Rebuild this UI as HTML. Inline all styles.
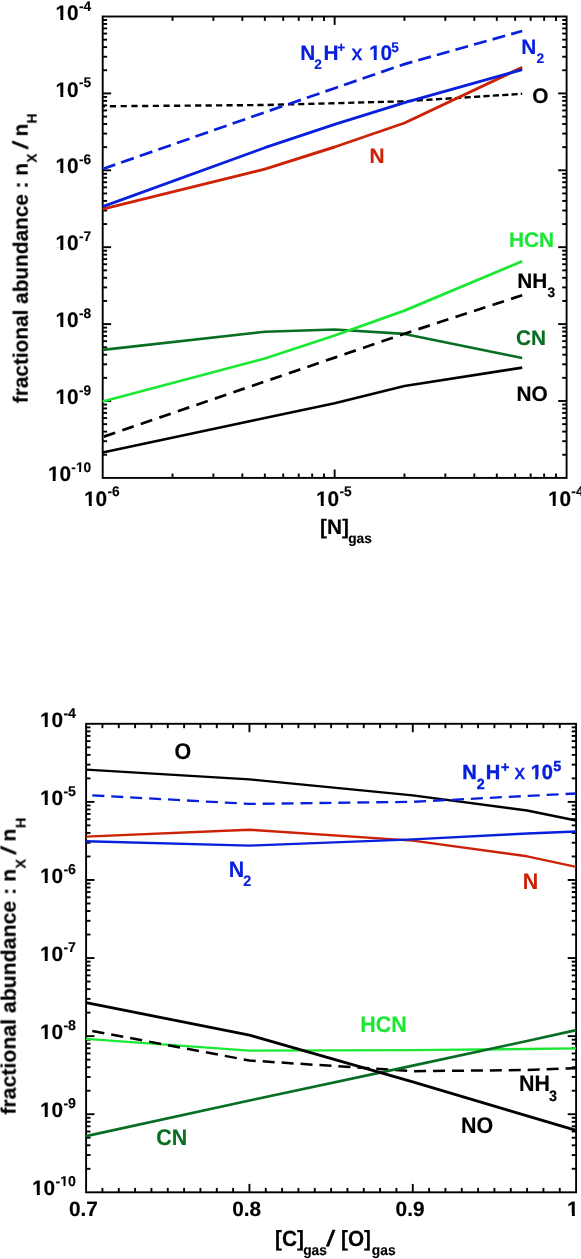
<!DOCTYPE html>
<html><head><meta charset="utf-8"><title>Fractional abundances</title>
<style>
html,body{margin:0;padding:0;background:#fff;}
body{width:581px;height:1259px;overflow:hidden;}
svg{display:block;font-family:"Liberation Sans", sans-serif;text-rendering:geometricPrecision;}
#wrap{will-change:transform;width:581px;height:1259px;}
text{font-family:"Liberation Sans", sans-serif;}
</style></head><body>
<div id="wrap">
<svg width="581" height="1259" viewBox="0 0 581 1259">
<defs><clipPath id="k0" clipPathUnits="userSpaceOnUse"><path clip-rule="evenodd" d="M-60 -60H260V60H-60Z M0.63 -3.14H4.88V3H0.63Z M7.80 -3.14H11.76V3H7.80Z"/></clipPath><clipPath id="k1" clipPathUnits="userSpaceOnUse"><path clip-rule="evenodd" d="M-60 -60H260V60H-60Z M5.05 -2.42H7.85V3H5.05Z M9.80 -2.42H12.41V3H9.80Z"/></clipPath><clipPath id="k2" clipPathUnits="userSpaceOnUse"><path clip-rule="evenodd" d="M-60 -60H260V60H-60Z M0.62 -3.12H4.83V3H0.62Z M7.73 -3.12H11.65V3H7.73Z"/></clipPath><clipPath id="k3" clipPathUnits="userSpaceOnUse"><path clip-rule="evenodd" d="M-60 -60H260V60H-60Z M5.15 -2.45H8.02V3H5.15Z M10.01 -2.45H12.68V3H10.01Z"/></clipPath><clipPath id="k4" clipPathUnits="userSpaceOnUse"><path clip-rule="evenodd" d="M-60 -60H260V60H-60Z M0.61 -3.09H4.76V3H0.61Z M7.62 -3.09H11.48V3H7.62Z"/></clipPath><mask id="m" maskUnits="userSpaceOnUse" x="0" y="0" width="581" height="1259"><rect x="0" y="0" width="581" height="1259" fill="#fff"/></mask></defs>
<rect x="0" y="0" width="581" height="1259" fill="#fff"/>
<g mask="url(#m)">
<rect x="102.7" y="16.5" width="463.90" height="461.40" fill="none" stroke="#000" stroke-width="1.9"/>
<line x1="102.70" y1="70.25" x2="107.10" y2="70.25" stroke="#000" stroke-width="1.9"/>
<line x1="566.60" y1="70.25" x2="562.20" y2="70.25" stroke="#000" stroke-width="1.9"/>
<line x1="102.70" y1="56.71" x2="107.10" y2="56.71" stroke="#000" stroke-width="1.9"/>
<line x1="566.60" y1="56.71" x2="562.20" y2="56.71" stroke="#000" stroke-width="1.9"/>
<line x1="102.70" y1="47.10" x2="107.10" y2="47.10" stroke="#000" stroke-width="1.9"/>
<line x1="566.60" y1="47.10" x2="562.20" y2="47.10" stroke="#000" stroke-width="1.9"/>
<line x1="102.70" y1="39.65" x2="107.10" y2="39.65" stroke="#000" stroke-width="1.9"/>
<line x1="566.60" y1="39.65" x2="562.20" y2="39.65" stroke="#000" stroke-width="1.9"/>
<line x1="102.70" y1="33.56" x2="107.10" y2="33.56" stroke="#000" stroke-width="1.9"/>
<line x1="566.60" y1="33.56" x2="562.20" y2="33.56" stroke="#000" stroke-width="1.9"/>
<line x1="102.70" y1="28.41" x2="107.10" y2="28.41" stroke="#000" stroke-width="1.9"/>
<line x1="566.60" y1="28.41" x2="562.20" y2="28.41" stroke="#000" stroke-width="1.9"/>
<line x1="102.70" y1="23.95" x2="107.10" y2="23.95" stroke="#000" stroke-width="1.9"/>
<line x1="566.60" y1="23.95" x2="562.20" y2="23.95" stroke="#000" stroke-width="1.9"/>
<line x1="102.70" y1="20.02" x2="107.10" y2="20.02" stroke="#000" stroke-width="1.9"/>
<line x1="566.60" y1="20.02" x2="562.20" y2="20.02" stroke="#000" stroke-width="1.9"/>
<line x1="102.70" y1="93.40" x2="111.10" y2="93.40" stroke="#000" stroke-width="1.9"/>
<line x1="566.60" y1="93.40" x2="558.20" y2="93.40" stroke="#000" stroke-width="1.9"/>
<line x1="102.70" y1="147.15" x2="107.10" y2="147.15" stroke="#000" stroke-width="1.9"/>
<line x1="566.60" y1="147.15" x2="562.20" y2="147.15" stroke="#000" stroke-width="1.9"/>
<line x1="102.70" y1="133.61" x2="107.10" y2="133.61" stroke="#000" stroke-width="1.9"/>
<line x1="566.60" y1="133.61" x2="562.20" y2="133.61" stroke="#000" stroke-width="1.9"/>
<line x1="102.70" y1="124.00" x2="107.10" y2="124.00" stroke="#000" stroke-width="1.9"/>
<line x1="566.60" y1="124.00" x2="562.20" y2="124.00" stroke="#000" stroke-width="1.9"/>
<line x1="102.70" y1="116.55" x2="107.10" y2="116.55" stroke="#000" stroke-width="1.9"/>
<line x1="566.60" y1="116.55" x2="562.20" y2="116.55" stroke="#000" stroke-width="1.9"/>
<line x1="102.70" y1="110.46" x2="107.10" y2="110.46" stroke="#000" stroke-width="1.9"/>
<line x1="566.60" y1="110.46" x2="562.20" y2="110.46" stroke="#000" stroke-width="1.9"/>
<line x1="102.70" y1="105.31" x2="107.10" y2="105.31" stroke="#000" stroke-width="1.9"/>
<line x1="566.60" y1="105.31" x2="562.20" y2="105.31" stroke="#000" stroke-width="1.9"/>
<line x1="102.70" y1="100.85" x2="107.10" y2="100.85" stroke="#000" stroke-width="1.9"/>
<line x1="566.60" y1="100.85" x2="562.20" y2="100.85" stroke="#000" stroke-width="1.9"/>
<line x1="102.70" y1="96.92" x2="107.10" y2="96.92" stroke="#000" stroke-width="1.9"/>
<line x1="566.60" y1="96.92" x2="562.20" y2="96.92" stroke="#000" stroke-width="1.9"/>
<line x1="102.70" y1="170.30" x2="111.10" y2="170.30" stroke="#000" stroke-width="1.9"/>
<line x1="566.60" y1="170.30" x2="558.20" y2="170.30" stroke="#000" stroke-width="1.9"/>
<line x1="102.70" y1="224.05" x2="107.10" y2="224.05" stroke="#000" stroke-width="1.9"/>
<line x1="566.60" y1="224.05" x2="562.20" y2="224.05" stroke="#000" stroke-width="1.9"/>
<line x1="102.70" y1="210.51" x2="107.10" y2="210.51" stroke="#000" stroke-width="1.9"/>
<line x1="566.60" y1="210.51" x2="562.20" y2="210.51" stroke="#000" stroke-width="1.9"/>
<line x1="102.70" y1="200.90" x2="107.10" y2="200.90" stroke="#000" stroke-width="1.9"/>
<line x1="566.60" y1="200.90" x2="562.20" y2="200.90" stroke="#000" stroke-width="1.9"/>
<line x1="102.70" y1="193.45" x2="107.10" y2="193.45" stroke="#000" stroke-width="1.9"/>
<line x1="566.60" y1="193.45" x2="562.20" y2="193.45" stroke="#000" stroke-width="1.9"/>
<line x1="102.70" y1="187.36" x2="107.10" y2="187.36" stroke="#000" stroke-width="1.9"/>
<line x1="566.60" y1="187.36" x2="562.20" y2="187.36" stroke="#000" stroke-width="1.9"/>
<line x1="102.70" y1="182.21" x2="107.10" y2="182.21" stroke="#000" stroke-width="1.9"/>
<line x1="566.60" y1="182.21" x2="562.20" y2="182.21" stroke="#000" stroke-width="1.9"/>
<line x1="102.70" y1="177.75" x2="107.10" y2="177.75" stroke="#000" stroke-width="1.9"/>
<line x1="566.60" y1="177.75" x2="562.20" y2="177.75" stroke="#000" stroke-width="1.9"/>
<line x1="102.70" y1="173.82" x2="107.10" y2="173.82" stroke="#000" stroke-width="1.9"/>
<line x1="566.60" y1="173.82" x2="562.20" y2="173.82" stroke="#000" stroke-width="1.9"/>
<line x1="102.70" y1="247.20" x2="111.10" y2="247.20" stroke="#000" stroke-width="1.9"/>
<line x1="566.60" y1="247.20" x2="558.20" y2="247.20" stroke="#000" stroke-width="1.9"/>
<line x1="102.70" y1="300.95" x2="107.10" y2="300.95" stroke="#000" stroke-width="1.9"/>
<line x1="566.60" y1="300.95" x2="562.20" y2="300.95" stroke="#000" stroke-width="1.9"/>
<line x1="102.70" y1="287.41" x2="107.10" y2="287.41" stroke="#000" stroke-width="1.9"/>
<line x1="566.60" y1="287.41" x2="562.20" y2="287.41" stroke="#000" stroke-width="1.9"/>
<line x1="102.70" y1="277.80" x2="107.10" y2="277.80" stroke="#000" stroke-width="1.9"/>
<line x1="566.60" y1="277.80" x2="562.20" y2="277.80" stroke="#000" stroke-width="1.9"/>
<line x1="102.70" y1="270.35" x2="107.10" y2="270.35" stroke="#000" stroke-width="1.9"/>
<line x1="566.60" y1="270.35" x2="562.20" y2="270.35" stroke="#000" stroke-width="1.9"/>
<line x1="102.70" y1="264.26" x2="107.10" y2="264.26" stroke="#000" stroke-width="1.9"/>
<line x1="566.60" y1="264.26" x2="562.20" y2="264.26" stroke="#000" stroke-width="1.9"/>
<line x1="102.70" y1="259.11" x2="107.10" y2="259.11" stroke="#000" stroke-width="1.9"/>
<line x1="566.60" y1="259.11" x2="562.20" y2="259.11" stroke="#000" stroke-width="1.9"/>
<line x1="102.70" y1="254.65" x2="107.10" y2="254.65" stroke="#000" stroke-width="1.9"/>
<line x1="566.60" y1="254.65" x2="562.20" y2="254.65" stroke="#000" stroke-width="1.9"/>
<line x1="102.70" y1="250.72" x2="107.10" y2="250.72" stroke="#000" stroke-width="1.9"/>
<line x1="566.60" y1="250.72" x2="562.20" y2="250.72" stroke="#000" stroke-width="1.9"/>
<line x1="102.70" y1="324.10" x2="111.10" y2="324.10" stroke="#000" stroke-width="1.9"/>
<line x1="566.60" y1="324.10" x2="558.20" y2="324.10" stroke="#000" stroke-width="1.9"/>
<line x1="102.70" y1="377.85" x2="107.10" y2="377.85" stroke="#000" stroke-width="1.9"/>
<line x1="566.60" y1="377.85" x2="562.20" y2="377.85" stroke="#000" stroke-width="1.9"/>
<line x1="102.70" y1="364.31" x2="107.10" y2="364.31" stroke="#000" stroke-width="1.9"/>
<line x1="566.60" y1="364.31" x2="562.20" y2="364.31" stroke="#000" stroke-width="1.9"/>
<line x1="102.70" y1="354.70" x2="107.10" y2="354.70" stroke="#000" stroke-width="1.9"/>
<line x1="566.60" y1="354.70" x2="562.20" y2="354.70" stroke="#000" stroke-width="1.9"/>
<line x1="102.70" y1="347.25" x2="107.10" y2="347.25" stroke="#000" stroke-width="1.9"/>
<line x1="566.60" y1="347.25" x2="562.20" y2="347.25" stroke="#000" stroke-width="1.9"/>
<line x1="102.70" y1="341.16" x2="107.10" y2="341.16" stroke="#000" stroke-width="1.9"/>
<line x1="566.60" y1="341.16" x2="562.20" y2="341.16" stroke="#000" stroke-width="1.9"/>
<line x1="102.70" y1="336.01" x2="107.10" y2="336.01" stroke="#000" stroke-width="1.9"/>
<line x1="566.60" y1="336.01" x2="562.20" y2="336.01" stroke="#000" stroke-width="1.9"/>
<line x1="102.70" y1="331.55" x2="107.10" y2="331.55" stroke="#000" stroke-width="1.9"/>
<line x1="566.60" y1="331.55" x2="562.20" y2="331.55" stroke="#000" stroke-width="1.9"/>
<line x1="102.70" y1="327.62" x2="107.10" y2="327.62" stroke="#000" stroke-width="1.9"/>
<line x1="566.60" y1="327.62" x2="562.20" y2="327.62" stroke="#000" stroke-width="1.9"/>
<line x1="102.70" y1="401.00" x2="111.10" y2="401.00" stroke="#000" stroke-width="1.9"/>
<line x1="566.60" y1="401.00" x2="558.20" y2="401.00" stroke="#000" stroke-width="1.9"/>
<line x1="102.70" y1="454.75" x2="107.10" y2="454.75" stroke="#000" stroke-width="1.9"/>
<line x1="566.60" y1="454.75" x2="562.20" y2="454.75" stroke="#000" stroke-width="1.9"/>
<line x1="102.70" y1="441.21" x2="107.10" y2="441.21" stroke="#000" stroke-width="1.9"/>
<line x1="566.60" y1="441.21" x2="562.20" y2="441.21" stroke="#000" stroke-width="1.9"/>
<line x1="102.70" y1="431.60" x2="107.10" y2="431.60" stroke="#000" stroke-width="1.9"/>
<line x1="566.60" y1="431.60" x2="562.20" y2="431.60" stroke="#000" stroke-width="1.9"/>
<line x1="102.70" y1="424.15" x2="107.10" y2="424.15" stroke="#000" stroke-width="1.9"/>
<line x1="566.60" y1="424.15" x2="562.20" y2="424.15" stroke="#000" stroke-width="1.9"/>
<line x1="102.70" y1="418.06" x2="107.10" y2="418.06" stroke="#000" stroke-width="1.9"/>
<line x1="566.60" y1="418.06" x2="562.20" y2="418.06" stroke="#000" stroke-width="1.9"/>
<line x1="102.70" y1="412.91" x2="107.10" y2="412.91" stroke="#000" stroke-width="1.9"/>
<line x1="566.60" y1="412.91" x2="562.20" y2="412.91" stroke="#000" stroke-width="1.9"/>
<line x1="102.70" y1="408.45" x2="107.10" y2="408.45" stroke="#000" stroke-width="1.9"/>
<line x1="566.60" y1="408.45" x2="562.20" y2="408.45" stroke="#000" stroke-width="1.9"/>
<line x1="102.70" y1="404.52" x2="107.10" y2="404.52" stroke="#000" stroke-width="1.9"/>
<line x1="566.60" y1="404.52" x2="562.20" y2="404.52" stroke="#000" stroke-width="1.9"/>
<line x1="172.52" y1="477.90" x2="172.52" y2="473.50" stroke="#000" stroke-width="1.9"/>
<line x1="172.52" y1="16.50" x2="172.52" y2="20.90" stroke="#000" stroke-width="1.9"/>
<line x1="213.37" y1="477.90" x2="213.37" y2="473.50" stroke="#000" stroke-width="1.9"/>
<line x1="213.37" y1="16.50" x2="213.37" y2="20.90" stroke="#000" stroke-width="1.9"/>
<line x1="242.35" y1="477.90" x2="242.35" y2="473.50" stroke="#000" stroke-width="1.9"/>
<line x1="242.35" y1="16.50" x2="242.35" y2="20.90" stroke="#000" stroke-width="1.9"/>
<line x1="264.83" y1="477.90" x2="264.83" y2="473.50" stroke="#000" stroke-width="1.9"/>
<line x1="264.83" y1="16.50" x2="264.83" y2="20.90" stroke="#000" stroke-width="1.9"/>
<line x1="283.19" y1="477.90" x2="283.19" y2="473.50" stroke="#000" stroke-width="1.9"/>
<line x1="283.19" y1="16.50" x2="283.19" y2="20.90" stroke="#000" stroke-width="1.9"/>
<line x1="298.72" y1="477.90" x2="298.72" y2="473.50" stroke="#000" stroke-width="1.9"/>
<line x1="298.72" y1="16.50" x2="298.72" y2="20.90" stroke="#000" stroke-width="1.9"/>
<line x1="312.17" y1="477.90" x2="312.17" y2="473.50" stroke="#000" stroke-width="1.9"/>
<line x1="312.17" y1="16.50" x2="312.17" y2="20.90" stroke="#000" stroke-width="1.9"/>
<line x1="324.04" y1="477.90" x2="324.04" y2="473.50" stroke="#000" stroke-width="1.9"/>
<line x1="324.04" y1="16.50" x2="324.04" y2="20.90" stroke="#000" stroke-width="1.9"/>
<line x1="334.65" y1="477.90" x2="334.65" y2="469.50" stroke="#000" stroke-width="1.9"/>
<line x1="334.65" y1="16.50" x2="334.65" y2="24.90" stroke="#000" stroke-width="1.9"/>
<line x1="404.47" y1="477.90" x2="404.47" y2="473.50" stroke="#000" stroke-width="1.9"/>
<line x1="404.47" y1="16.50" x2="404.47" y2="20.90" stroke="#000" stroke-width="1.9"/>
<line x1="445.32" y1="477.90" x2="445.32" y2="473.50" stroke="#000" stroke-width="1.9"/>
<line x1="445.32" y1="16.50" x2="445.32" y2="20.90" stroke="#000" stroke-width="1.9"/>
<line x1="474.30" y1="477.90" x2="474.30" y2="473.50" stroke="#000" stroke-width="1.9"/>
<line x1="474.30" y1="16.50" x2="474.30" y2="20.90" stroke="#000" stroke-width="1.9"/>
<line x1="496.78" y1="477.90" x2="496.78" y2="473.50" stroke="#000" stroke-width="1.9"/>
<line x1="496.78" y1="16.50" x2="496.78" y2="20.90" stroke="#000" stroke-width="1.9"/>
<line x1="515.14" y1="477.90" x2="515.14" y2="473.50" stroke="#000" stroke-width="1.9"/>
<line x1="515.14" y1="16.50" x2="515.14" y2="20.90" stroke="#000" stroke-width="1.9"/>
<line x1="530.67" y1="477.90" x2="530.67" y2="473.50" stroke="#000" stroke-width="1.9"/>
<line x1="530.67" y1="16.50" x2="530.67" y2="20.90" stroke="#000" stroke-width="1.9"/>
<line x1="544.12" y1="477.90" x2="544.12" y2="473.50" stroke="#000" stroke-width="1.9"/>
<line x1="544.12" y1="16.50" x2="544.12" y2="20.90" stroke="#000" stroke-width="1.9"/>
<line x1="555.99" y1="477.90" x2="555.99" y2="473.50" stroke="#000" stroke-width="1.9"/>
<line x1="555.99" y1="16.50" x2="555.99" y2="20.90" stroke="#000" stroke-width="1.9"/>
<text transform="translate(78.97 11.30) scale(0.99 1)" font-size="13.9" fill="#000" text-anchor="start" font-weight="bold" stroke="#000" stroke-width="0.15">-4</text>
<text transform="translate(55.55 19.60) scale(0.99 1)" font-size="21.0" fill="#000" text-anchor="start" font-weight="bold" stroke="#000" stroke-width="0.15" clip-path="url(#k0)">10</text>
<text transform="translate(78.97 87.20) scale(0.99 1)" font-size="13.9" fill="#000" text-anchor="start" font-weight="bold" stroke="#000" stroke-width="0.15">-5</text>
<text transform="translate(55.55 96.50) scale(0.99 1)" font-size="21.0" fill="#000" text-anchor="start" font-weight="bold" stroke="#000" stroke-width="0.15" clip-path="url(#k0)">10</text>
<text transform="translate(78.97 164.10) scale(0.99 1)" font-size="13.9" fill="#000" text-anchor="start" font-weight="bold" stroke="#000" stroke-width="0.15">-6</text>
<text transform="translate(55.55 173.40) scale(0.99 1)" font-size="21.0" fill="#000" text-anchor="start" font-weight="bold" stroke="#000" stroke-width="0.15" clip-path="url(#k0)">10</text>
<text transform="translate(78.97 241.00) scale(0.99 1)" font-size="13.9" fill="#000" text-anchor="start" font-weight="bold" stroke="#000" stroke-width="0.15">-7</text>
<text transform="translate(55.55 250.30) scale(0.99 1)" font-size="21.0" fill="#000" text-anchor="start" font-weight="bold" stroke="#000" stroke-width="0.15" clip-path="url(#k0)">10</text>
<text transform="translate(78.97 317.90) scale(0.99 1)" font-size="13.9" fill="#000" text-anchor="start" font-weight="bold" stroke="#000" stroke-width="0.15">-8</text>
<text transform="translate(55.55 327.20) scale(0.99 1)" font-size="21.0" fill="#000" text-anchor="start" font-weight="bold" stroke="#000" stroke-width="0.15" clip-path="url(#k0)">10</text>
<text transform="translate(78.97 394.80) scale(0.99 1)" font-size="13.9" fill="#000" text-anchor="start" font-weight="bold" stroke="#000" stroke-width="0.15">-9</text>
<text transform="translate(55.55 404.10) scale(0.99 1)" font-size="21.0" fill="#000" text-anchor="start" font-weight="bold" stroke="#000" stroke-width="0.15" clip-path="url(#k0)">10</text>
<text transform="translate(71.32 471.70) scale(0.99 1)" font-size="13.9" fill="#000" text-anchor="start" font-weight="bold" stroke="#000" stroke-width="0.15" clip-path="url(#k1)">-10</text>
<text transform="translate(47.90 481.00) scale(0.99 1)" font-size="21.0" fill="#000" text-anchor="start" font-weight="bold" stroke="#000" stroke-width="0.15" clip-path="url(#k0)">10</text>
<text transform="translate(84.02 505.60) scale(0.99 1)" font-size="21.0" fill="#000" text-anchor="start" font-weight="bold" stroke="#000" stroke-width="0.15" clip-path="url(#k0)">10</text>
<text transform="translate(107.44 496.30) scale(0.99 1)" font-size="13.9" fill="#000" text-anchor="start" font-weight="bold" stroke="#000" stroke-width="0.15">-6</text>
<text transform="translate(315.97 505.60) scale(0.99 1)" font-size="21.0" fill="#000" text-anchor="start" font-weight="bold" stroke="#000" stroke-width="0.15" clip-path="url(#k0)">10</text>
<text transform="translate(339.39 496.30) scale(0.99 1)" font-size="13.9" fill="#000" text-anchor="start" font-weight="bold" stroke="#000" stroke-width="0.15">-5</text>
<text transform="translate(547.92 505.60) scale(0.99 1)" font-size="21.0" fill="#000" text-anchor="start" font-weight="bold" stroke="#000" stroke-width="0.15" clip-path="url(#k0)">10</text>
<text transform="translate(571.34 496.30) scale(0.99 1)" font-size="13.9" fill="#000" text-anchor="start" font-weight="bold" stroke="#000" stroke-width="0.15">-4</text>
<text transform="translate(320.00 533.60) scale(0.99 1)" font-size="21.0" fill="#000" text-anchor="start" font-weight="bold" stroke="#000" stroke-width="0.15">[N]</text>
<text transform="translate(348.20 542.60) scale(0.99 1)" font-size="13.9" fill="#000" text-anchor="start" font-weight="bold" stroke="#000" stroke-width="0.15">gas</text>
<g transform="translate(27.7,403.2) rotate(-90)">
<text transform="translate(0.00 0.00) scale(0.99 1)" font-size="21.0" fill="#000" text-anchor="start" font-weight="bold" stroke="#000" stroke-width="0.15">fractional abundance : n</text>
<text transform="translate(240.59 9.30) scale(0.99 1)" font-size="13.9" fill="#000" text-anchor="start" font-weight="bold" stroke="#000" stroke-width="0.15">X</text>
<text transform="translate(254.05 0.00) scale(1.4355 1)" font-size="21.0" fill="#000" text-anchor="start" font-weight="normal" stroke="#000" stroke-width="0.45">/</text>
<text transform="translate(266.81 0.00) scale(0.99 1)" font-size="21.0" fill="#000" text-anchor="start" font-weight="bold" stroke="#000" stroke-width="0.15">n</text>
<text transform="translate(279.81 9.30) scale(0.99 1)" font-size="13.9" fill="#000" text-anchor="start" font-weight="bold" stroke="#000" stroke-width="0.15">H</text>
</g>
<path d="M102.70 106.30 L105.20 106.28 M109.84 106.24 L116.04 106.19 M120.64 106.16 L126.84 106.11 M131.40 106.07 L137.60 106.02 M142.12 105.98 L148.32 105.93 M152.80 105.90 L159.00 105.85 M163.44 105.81 L169.64 105.76 M174.04 105.73 L180.24 105.68 M184.59 105.64 L190.79 105.59 M195.11 105.56 L201.31 105.51 M205.59 105.47 L211.79 105.43 M216.03 105.39 L222.23 105.34 M226.43 105.31 L232.63 105.26 M236.79 105.22 L242.99 105.18 M247.11 105.14 L253.31 105.09 M257.39 105.06 L263.59 105.01 M267.63 104.93 L273.83 104.77 M277.84 104.66 L284.04 104.50 M288.00 104.40 L294.20 104.24 M298.13 104.14 L304.33 103.98 M308.22 103.88 L314.42 103.72 M318.27 103.62 L324.47 103.46 M328.28 103.36 L334.48 103.20 M338.26 103.10 L344.46 102.93 M348.19 102.83 L354.39 102.66 M358.09 102.56 L364.29 102.39 M367.95 102.29 L374.15 102.13 M377.78 102.03 L383.98 101.86 M387.57 101.76 L393.77 101.59 M397.32 101.49 L403.52 101.33 M407.03 101.14 L413.23 100.74 M416.71 100.52 L422.91 100.13 M426.35 99.91 L432.55 99.51 M435.95 99.29 L442.15 98.90 M445.52 98.68 L451.72 98.29 M455.05 98.08 L461.25 97.68 M464.55 97.47 L470.75 97.08 M474.01 96.87 L480.21 96.48 M483.43 96.27 L489.63 95.87 M492.82 95.67 L499.02 95.28 M502.17 95.08 L508.37 94.68 M511.49 94.48 L517.69 94.09 M520.77 93.89 L522.20 93.80" fill="none" stroke="#000" stroke-width="2.4" stroke-linejoin="round"/>
<path d="M102.70 169.00 L115.20 164.63 M121.17 162.54 L133.77 158.13 M139.74 156.05 L152.34 151.64 M158.31 149.55 L170.91 145.15 M176.88 143.06 L189.48 138.65 M195.45 136.56 L208.05 132.16 M214.02 130.07 L226.62 125.66 M232.59 123.57 L245.19 119.17 M251.16 117.08 L263.76 112.67 M269.73 110.61 L282.33 106.26 M288.30 104.20 L300.90 99.85 M306.87 97.79 L319.47 93.44 M325.44 91.38 L334.65 88.20 L338.04 87.03 M344.01 84.97 L356.61 80.62 M362.58 78.56 L375.18 74.21 M381.15 72.15 L393.75 67.80 M399.72 65.74 L404.47 64.10 L412.32 61.89 M418.29 60.22 L430.89 56.67 M436.86 54.99 L449.46 51.45 M455.43 49.77 L468.03 46.23 M474.00 44.55 L486.60 41.01 M492.57 39.33 L505.17 35.79 M511.14 34.11 L522.20 31.00" fill="none" stroke="#0820dc" stroke-width="2.7" stroke-linejoin="round"/>
<polyline points="102.70,209.20 264.83,169.20 334.65,147.00 404.47,123.00 522.20,67.40" fill="none" stroke="#cc2206" stroke-width="2.9" stroke-linejoin="round"/>
<polyline points="102.70,206.60 264.83,147.70 334.65,124.30 404.47,102.60 522.20,69.60" fill="none" stroke="#0820dc" stroke-width="2.8" stroke-linejoin="round"/>
<polyline points="102.70,349.90 264.83,331.80 334.65,329.50 404.47,333.90 522.20,358.00" fill="none" stroke="#076e22" stroke-width="2.6" stroke-linejoin="round"/>
<polyline points="102.70,401.50 264.83,358.50 334.65,335.50 404.47,310.60 522.20,261.30" fill="none" stroke="#1ae834" stroke-width="2.8" stroke-linejoin="round"/>
<path d="M103.80 436.62 L115.20 432.72 M122.31 430.29 L133.71 426.38 M140.82 423.95 L152.22 420.05 M159.33 417.61 L170.73 413.71 M177.84 411.28 L189.24 407.38 M196.35 404.94 L207.75 401.04 M214.86 398.60 L226.26 394.70 M233.37 392.27 L244.77 388.37 M251.88 385.93 L263.28 382.03 M270.39 379.60 L281.79 375.69 M288.90 373.26 L300.30 369.36 M307.41 366.92 L318.81 363.02 M325.92 360.59 L334.65 357.60 L337.32 356.69 M344.43 354.25 L355.83 350.35 M362.94 347.92 L374.34 344.01 M381.45 341.58 L392.85 337.68 M399.96 335.25 L404.47 333.70 L411.36 331.45 M418.47 329.12 L429.87 325.39 M436.98 323.07 L448.38 319.34 M455.49 317.02 L466.89 313.29 M474.00 310.96 L485.40 307.23 M492.51 304.91 L503.91 301.18 M511.02 298.86 L522.20 295.20" fill="none" stroke="#000" stroke-width="2.7" stroke-linejoin="round"/>
<polyline points="102.70,452.50 264.83,418.00 334.65,403.20 404.47,386.00 522.20,367.60" fill="none" stroke="#000" stroke-width="2.6" stroke-linejoin="round"/>
<text transform="translate(300.30 59.80) scale(0.99 1)" font-size="21.0" fill="#0820dc" text-anchor="start" font-weight="bold" stroke="#0820dc" stroke-width="0.15">N</text>
<text transform="translate(314.20 69.40) scale(0.99 1)" font-size="13.9" fill="#0820dc" text-anchor="start" font-weight="bold" stroke="#0820dc" stroke-width="0.15">2</text>
<text transform="translate(323.60 59.80) scale(0.99 1)" font-size="21.0" fill="#0820dc" text-anchor="start" font-weight="bold" stroke="#0820dc" stroke-width="0.15">H</text>
<text transform="translate(337.30 51.90) scale(0.99 1)" font-size="13.9" fill="#0820dc" text-anchor="start" font-weight="bold" stroke="#0820dc" stroke-width="0.15">+</text>
<text transform="translate(351.80 59.80) scale(0.99 1)" font-size="21.0" fill="#0820dc" text-anchor="start" font-weight="normal" stroke="#0820dc" stroke-width="0.6">x</text>
<text transform="translate(369.00 59.80) scale(0.99 1)" font-size="21.0" fill="#0820dc" text-anchor="start" font-weight="bold" stroke="#0820dc" stroke-width="0.15" clip-path="url(#k0)">10</text>
<text transform="translate(391.30 51.90) scale(0.99 1)" font-size="13.9" fill="#0820dc" text-anchor="start" font-weight="bold" stroke="#0820dc" stroke-width="0.15">5</text>
<text transform="translate(521.20 53.80) scale(0.99 1)" font-size="21.0" fill="#0820dc" text-anchor="start" font-weight="bold" stroke="#0820dc" stroke-width="0.15">N</text>
<text transform="translate(536.40 63.20) scale(0.99 1)" font-size="13.9" fill="#0820dc" text-anchor="start" font-weight="bold" stroke="#0820dc" stroke-width="0.15">2</text>
<text transform="translate(532.20 102.60) scale(0.99 1)" font-size="21.0" fill="#000" text-anchor="start" font-weight="bold" stroke="#000" stroke-width="0.15">O</text>
<text transform="translate(369.60 163.00) scale(0.99 1)" font-size="21.0" fill="#cc2206" text-anchor="start" font-weight="bold" stroke="#cc2206" stroke-width="0.15">N</text>
<text transform="translate(509.00 246.80) scale(0.99 1)" font-size="21.0" fill="#1ae834" text-anchor="start" font-weight="bold" stroke="#1ae834" stroke-width="0.15">HCN</text>
<text transform="translate(517.30 288.00) scale(0.99 1)" font-size="21.0" fill="#000" text-anchor="start" font-weight="bold" stroke="#000" stroke-width="0.15">NH</text>
<text transform="translate(547.60 297.40) scale(0.99 1)" font-size="13.9" fill="#000" text-anchor="start" font-weight="bold" stroke="#000" stroke-width="0.15">3</text>
<text transform="translate(516.00 345.10) scale(0.99 1)" font-size="21.0" fill="#076e22" text-anchor="start" font-weight="bold" stroke="#076e22" stroke-width="0.15">CN</text>
<text transform="translate(516.40 400.90) scale(0.99 1)" font-size="21.0" fill="#000" text-anchor="start" font-weight="bold" stroke="#000" stroke-width="0.15">NO</text>
<rect x="86.1" y="723.8" width="490.00" height="468.50" fill="none" stroke="#000" stroke-width="1.9"/>
<line x1="86.10" y1="778.38" x2="90.50" y2="778.38" stroke="#000" stroke-width="1.9"/>
<line x1="576.10" y1="778.38" x2="571.70" y2="778.38" stroke="#000" stroke-width="1.9"/>
<line x1="86.10" y1="764.63" x2="90.50" y2="764.63" stroke="#000" stroke-width="1.9"/>
<line x1="576.10" y1="764.63" x2="571.70" y2="764.63" stroke="#000" stroke-width="1.9"/>
<line x1="86.10" y1="754.87" x2="90.50" y2="754.87" stroke="#000" stroke-width="1.9"/>
<line x1="576.10" y1="754.87" x2="571.70" y2="754.87" stroke="#000" stroke-width="1.9"/>
<line x1="86.10" y1="747.31" x2="90.50" y2="747.31" stroke="#000" stroke-width="1.9"/>
<line x1="576.10" y1="747.31" x2="571.70" y2="747.31" stroke="#000" stroke-width="1.9"/>
<line x1="86.10" y1="741.12" x2="90.50" y2="741.12" stroke="#000" stroke-width="1.9"/>
<line x1="576.10" y1="741.12" x2="571.70" y2="741.12" stroke="#000" stroke-width="1.9"/>
<line x1="86.10" y1="735.90" x2="90.50" y2="735.90" stroke="#000" stroke-width="1.9"/>
<line x1="576.10" y1="735.90" x2="571.70" y2="735.90" stroke="#000" stroke-width="1.9"/>
<line x1="86.10" y1="731.37" x2="90.50" y2="731.37" stroke="#000" stroke-width="1.9"/>
<line x1="576.10" y1="731.37" x2="571.70" y2="731.37" stroke="#000" stroke-width="1.9"/>
<line x1="86.10" y1="727.37" x2="90.50" y2="727.37" stroke="#000" stroke-width="1.9"/>
<line x1="576.10" y1="727.37" x2="571.70" y2="727.37" stroke="#000" stroke-width="1.9"/>
<line x1="86.10" y1="801.88" x2="94.50" y2="801.88" stroke="#000" stroke-width="1.9"/>
<line x1="576.10" y1="801.88" x2="567.70" y2="801.88" stroke="#000" stroke-width="1.9"/>
<line x1="86.10" y1="856.46" x2="90.50" y2="856.46" stroke="#000" stroke-width="1.9"/>
<line x1="576.10" y1="856.46" x2="571.70" y2="856.46" stroke="#000" stroke-width="1.9"/>
<line x1="86.10" y1="842.71" x2="90.50" y2="842.71" stroke="#000" stroke-width="1.9"/>
<line x1="576.10" y1="842.71" x2="571.70" y2="842.71" stroke="#000" stroke-width="1.9"/>
<line x1="86.10" y1="832.96" x2="90.50" y2="832.96" stroke="#000" stroke-width="1.9"/>
<line x1="576.10" y1="832.96" x2="571.70" y2="832.96" stroke="#000" stroke-width="1.9"/>
<line x1="86.10" y1="825.39" x2="90.50" y2="825.39" stroke="#000" stroke-width="1.9"/>
<line x1="576.10" y1="825.39" x2="571.70" y2="825.39" stroke="#000" stroke-width="1.9"/>
<line x1="86.10" y1="819.21" x2="90.50" y2="819.21" stroke="#000" stroke-width="1.9"/>
<line x1="576.10" y1="819.21" x2="571.70" y2="819.21" stroke="#000" stroke-width="1.9"/>
<line x1="86.10" y1="813.98" x2="90.50" y2="813.98" stroke="#000" stroke-width="1.9"/>
<line x1="576.10" y1="813.98" x2="571.70" y2="813.98" stroke="#000" stroke-width="1.9"/>
<line x1="86.10" y1="809.45" x2="90.50" y2="809.45" stroke="#000" stroke-width="1.9"/>
<line x1="576.10" y1="809.45" x2="571.70" y2="809.45" stroke="#000" stroke-width="1.9"/>
<line x1="86.10" y1="805.46" x2="90.50" y2="805.46" stroke="#000" stroke-width="1.9"/>
<line x1="576.10" y1="805.46" x2="571.70" y2="805.46" stroke="#000" stroke-width="1.9"/>
<line x1="86.10" y1="879.97" x2="94.50" y2="879.97" stroke="#000" stroke-width="1.9"/>
<line x1="576.10" y1="879.97" x2="567.70" y2="879.97" stroke="#000" stroke-width="1.9"/>
<line x1="86.10" y1="934.54" x2="90.50" y2="934.54" stroke="#000" stroke-width="1.9"/>
<line x1="576.10" y1="934.54" x2="571.70" y2="934.54" stroke="#000" stroke-width="1.9"/>
<line x1="86.10" y1="920.79" x2="90.50" y2="920.79" stroke="#000" stroke-width="1.9"/>
<line x1="576.10" y1="920.79" x2="571.70" y2="920.79" stroke="#000" stroke-width="1.9"/>
<line x1="86.10" y1="911.04" x2="90.50" y2="911.04" stroke="#000" stroke-width="1.9"/>
<line x1="576.10" y1="911.04" x2="571.70" y2="911.04" stroke="#000" stroke-width="1.9"/>
<line x1="86.10" y1="903.47" x2="90.50" y2="903.47" stroke="#000" stroke-width="1.9"/>
<line x1="576.10" y1="903.47" x2="571.70" y2="903.47" stroke="#000" stroke-width="1.9"/>
<line x1="86.10" y1="897.29" x2="90.50" y2="897.29" stroke="#000" stroke-width="1.9"/>
<line x1="576.10" y1="897.29" x2="571.70" y2="897.29" stroke="#000" stroke-width="1.9"/>
<line x1="86.10" y1="892.06" x2="90.50" y2="892.06" stroke="#000" stroke-width="1.9"/>
<line x1="576.10" y1="892.06" x2="571.70" y2="892.06" stroke="#000" stroke-width="1.9"/>
<line x1="86.10" y1="887.53" x2="90.50" y2="887.53" stroke="#000" stroke-width="1.9"/>
<line x1="576.10" y1="887.53" x2="571.70" y2="887.53" stroke="#000" stroke-width="1.9"/>
<line x1="86.10" y1="883.54" x2="90.50" y2="883.54" stroke="#000" stroke-width="1.9"/>
<line x1="576.10" y1="883.54" x2="571.70" y2="883.54" stroke="#000" stroke-width="1.9"/>
<line x1="86.10" y1="958.05" x2="94.50" y2="958.05" stroke="#000" stroke-width="1.9"/>
<line x1="576.10" y1="958.05" x2="567.70" y2="958.05" stroke="#000" stroke-width="1.9"/>
<line x1="86.10" y1="1012.63" x2="90.50" y2="1012.63" stroke="#000" stroke-width="1.9"/>
<line x1="576.10" y1="1012.63" x2="571.70" y2="1012.63" stroke="#000" stroke-width="1.9"/>
<line x1="86.10" y1="998.88" x2="90.50" y2="998.88" stroke="#000" stroke-width="1.9"/>
<line x1="576.10" y1="998.88" x2="571.70" y2="998.88" stroke="#000" stroke-width="1.9"/>
<line x1="86.10" y1="989.12" x2="90.50" y2="989.12" stroke="#000" stroke-width="1.9"/>
<line x1="576.10" y1="989.12" x2="571.70" y2="989.12" stroke="#000" stroke-width="1.9"/>
<line x1="86.10" y1="981.56" x2="90.50" y2="981.56" stroke="#000" stroke-width="1.9"/>
<line x1="576.10" y1="981.56" x2="571.70" y2="981.56" stroke="#000" stroke-width="1.9"/>
<line x1="86.10" y1="975.37" x2="90.50" y2="975.37" stroke="#000" stroke-width="1.9"/>
<line x1="576.10" y1="975.37" x2="571.70" y2="975.37" stroke="#000" stroke-width="1.9"/>
<line x1="86.10" y1="970.15" x2="90.50" y2="970.15" stroke="#000" stroke-width="1.9"/>
<line x1="576.10" y1="970.15" x2="571.70" y2="970.15" stroke="#000" stroke-width="1.9"/>
<line x1="86.10" y1="965.62" x2="90.50" y2="965.62" stroke="#000" stroke-width="1.9"/>
<line x1="576.10" y1="965.62" x2="571.70" y2="965.62" stroke="#000" stroke-width="1.9"/>
<line x1="86.10" y1="961.62" x2="90.50" y2="961.62" stroke="#000" stroke-width="1.9"/>
<line x1="576.10" y1="961.62" x2="571.70" y2="961.62" stroke="#000" stroke-width="1.9"/>
<line x1="86.10" y1="1036.13" x2="94.50" y2="1036.13" stroke="#000" stroke-width="1.9"/>
<line x1="576.10" y1="1036.13" x2="567.70" y2="1036.13" stroke="#000" stroke-width="1.9"/>
<line x1="86.10" y1="1090.71" x2="90.50" y2="1090.71" stroke="#000" stroke-width="1.9"/>
<line x1="576.10" y1="1090.71" x2="571.70" y2="1090.71" stroke="#000" stroke-width="1.9"/>
<line x1="86.10" y1="1076.96" x2="90.50" y2="1076.96" stroke="#000" stroke-width="1.9"/>
<line x1="576.10" y1="1076.96" x2="571.70" y2="1076.96" stroke="#000" stroke-width="1.9"/>
<line x1="86.10" y1="1067.21" x2="90.50" y2="1067.21" stroke="#000" stroke-width="1.9"/>
<line x1="576.10" y1="1067.21" x2="571.70" y2="1067.21" stroke="#000" stroke-width="1.9"/>
<line x1="86.10" y1="1059.64" x2="90.50" y2="1059.64" stroke="#000" stroke-width="1.9"/>
<line x1="576.10" y1="1059.64" x2="571.70" y2="1059.64" stroke="#000" stroke-width="1.9"/>
<line x1="86.10" y1="1053.46" x2="90.50" y2="1053.46" stroke="#000" stroke-width="1.9"/>
<line x1="576.10" y1="1053.46" x2="571.70" y2="1053.46" stroke="#000" stroke-width="1.9"/>
<line x1="86.10" y1="1048.23" x2="90.50" y2="1048.23" stroke="#000" stroke-width="1.9"/>
<line x1="576.10" y1="1048.23" x2="571.70" y2="1048.23" stroke="#000" stroke-width="1.9"/>
<line x1="86.10" y1="1043.70" x2="90.50" y2="1043.70" stroke="#000" stroke-width="1.9"/>
<line x1="576.10" y1="1043.70" x2="571.70" y2="1043.70" stroke="#000" stroke-width="1.9"/>
<line x1="86.10" y1="1039.71" x2="90.50" y2="1039.71" stroke="#000" stroke-width="1.9"/>
<line x1="576.10" y1="1039.71" x2="571.70" y2="1039.71" stroke="#000" stroke-width="1.9"/>
<line x1="86.10" y1="1114.22" x2="94.50" y2="1114.22" stroke="#000" stroke-width="1.9"/>
<line x1="576.10" y1="1114.22" x2="567.70" y2="1114.22" stroke="#000" stroke-width="1.9"/>
<line x1="86.10" y1="1168.79" x2="90.50" y2="1168.79" stroke="#000" stroke-width="1.9"/>
<line x1="576.10" y1="1168.79" x2="571.70" y2="1168.79" stroke="#000" stroke-width="1.9"/>
<line x1="86.10" y1="1155.04" x2="90.50" y2="1155.04" stroke="#000" stroke-width="1.9"/>
<line x1="576.10" y1="1155.04" x2="571.70" y2="1155.04" stroke="#000" stroke-width="1.9"/>
<line x1="86.10" y1="1145.29" x2="90.50" y2="1145.29" stroke="#000" stroke-width="1.9"/>
<line x1="576.10" y1="1145.29" x2="571.70" y2="1145.29" stroke="#000" stroke-width="1.9"/>
<line x1="86.10" y1="1137.72" x2="90.50" y2="1137.72" stroke="#000" stroke-width="1.9"/>
<line x1="576.10" y1="1137.72" x2="571.70" y2="1137.72" stroke="#000" stroke-width="1.9"/>
<line x1="86.10" y1="1131.54" x2="90.50" y2="1131.54" stroke="#000" stroke-width="1.9"/>
<line x1="576.10" y1="1131.54" x2="571.70" y2="1131.54" stroke="#000" stroke-width="1.9"/>
<line x1="86.10" y1="1126.31" x2="90.50" y2="1126.31" stroke="#000" stroke-width="1.9"/>
<line x1="576.10" y1="1126.31" x2="571.70" y2="1126.31" stroke="#000" stroke-width="1.9"/>
<line x1="86.10" y1="1121.78" x2="90.50" y2="1121.78" stroke="#000" stroke-width="1.9"/>
<line x1="576.10" y1="1121.78" x2="571.70" y2="1121.78" stroke="#000" stroke-width="1.9"/>
<line x1="86.10" y1="1117.79" x2="90.50" y2="1117.79" stroke="#000" stroke-width="1.9"/>
<line x1="576.10" y1="1117.79" x2="571.70" y2="1117.79" stroke="#000" stroke-width="1.9"/>
<line x1="102.43" y1="1192.30" x2="102.43" y2="1187.90" stroke="#000" stroke-width="1.9"/>
<line x1="102.43" y1="723.80" x2="102.43" y2="728.20" stroke="#000" stroke-width="1.9"/>
<line x1="118.77" y1="1192.30" x2="118.77" y2="1187.90" stroke="#000" stroke-width="1.9"/>
<line x1="118.77" y1="723.80" x2="118.77" y2="728.20" stroke="#000" stroke-width="1.9"/>
<line x1="135.10" y1="1192.30" x2="135.10" y2="1187.90" stroke="#000" stroke-width="1.9"/>
<line x1="135.10" y1="723.80" x2="135.10" y2="728.20" stroke="#000" stroke-width="1.9"/>
<line x1="151.43" y1="1192.30" x2="151.43" y2="1187.90" stroke="#000" stroke-width="1.9"/>
<line x1="151.43" y1="723.80" x2="151.43" y2="728.20" stroke="#000" stroke-width="1.9"/>
<line x1="167.77" y1="1192.30" x2="167.77" y2="1187.90" stroke="#000" stroke-width="1.9"/>
<line x1="167.77" y1="723.80" x2="167.77" y2="728.20" stroke="#000" stroke-width="1.9"/>
<line x1="184.10" y1="1192.30" x2="184.10" y2="1187.90" stroke="#000" stroke-width="1.9"/>
<line x1="184.10" y1="723.80" x2="184.10" y2="728.20" stroke="#000" stroke-width="1.9"/>
<line x1="200.43" y1="1192.30" x2="200.43" y2="1187.90" stroke="#000" stroke-width="1.9"/>
<line x1="200.43" y1="723.80" x2="200.43" y2="728.20" stroke="#000" stroke-width="1.9"/>
<line x1="216.77" y1="1192.30" x2="216.77" y2="1187.90" stroke="#000" stroke-width="1.9"/>
<line x1="216.77" y1="723.80" x2="216.77" y2="728.20" stroke="#000" stroke-width="1.9"/>
<line x1="233.10" y1="1192.30" x2="233.10" y2="1187.90" stroke="#000" stroke-width="1.9"/>
<line x1="233.10" y1="723.80" x2="233.10" y2="728.20" stroke="#000" stroke-width="1.9"/>
<line x1="249.43" y1="1192.30" x2="249.43" y2="1183.90" stroke="#000" stroke-width="1.9"/>
<line x1="249.43" y1="723.80" x2="249.43" y2="732.20" stroke="#000" stroke-width="1.9"/>
<line x1="265.77" y1="1192.30" x2="265.77" y2="1187.90" stroke="#000" stroke-width="1.9"/>
<line x1="265.77" y1="723.80" x2="265.77" y2="728.20" stroke="#000" stroke-width="1.9"/>
<line x1="282.10" y1="1192.30" x2="282.10" y2="1187.90" stroke="#000" stroke-width="1.9"/>
<line x1="282.10" y1="723.80" x2="282.10" y2="728.20" stroke="#000" stroke-width="1.9"/>
<line x1="298.43" y1="1192.30" x2="298.43" y2="1187.90" stroke="#000" stroke-width="1.9"/>
<line x1="298.43" y1="723.80" x2="298.43" y2="728.20" stroke="#000" stroke-width="1.9"/>
<line x1="314.77" y1="1192.30" x2="314.77" y2="1187.90" stroke="#000" stroke-width="1.9"/>
<line x1="314.77" y1="723.80" x2="314.77" y2="728.20" stroke="#000" stroke-width="1.9"/>
<line x1="331.10" y1="1192.30" x2="331.10" y2="1187.90" stroke="#000" stroke-width="1.9"/>
<line x1="331.10" y1="723.80" x2="331.10" y2="728.20" stroke="#000" stroke-width="1.9"/>
<line x1="347.43" y1="1192.30" x2="347.43" y2="1187.90" stroke="#000" stroke-width="1.9"/>
<line x1="347.43" y1="723.80" x2="347.43" y2="728.20" stroke="#000" stroke-width="1.9"/>
<line x1="363.77" y1="1192.30" x2="363.77" y2="1187.90" stroke="#000" stroke-width="1.9"/>
<line x1="363.77" y1="723.80" x2="363.77" y2="728.20" stroke="#000" stroke-width="1.9"/>
<line x1="380.10" y1="1192.30" x2="380.10" y2="1187.90" stroke="#000" stroke-width="1.9"/>
<line x1="380.10" y1="723.80" x2="380.10" y2="728.20" stroke="#000" stroke-width="1.9"/>
<line x1="396.43" y1="1192.30" x2="396.43" y2="1187.90" stroke="#000" stroke-width="1.9"/>
<line x1="396.43" y1="723.80" x2="396.43" y2="728.20" stroke="#000" stroke-width="1.9"/>
<line x1="412.77" y1="1192.30" x2="412.77" y2="1183.90" stroke="#000" stroke-width="1.9"/>
<line x1="412.77" y1="723.80" x2="412.77" y2="732.20" stroke="#000" stroke-width="1.9"/>
<line x1="429.10" y1="1192.30" x2="429.10" y2="1187.90" stroke="#000" stroke-width="1.9"/>
<line x1="429.10" y1="723.80" x2="429.10" y2="728.20" stroke="#000" stroke-width="1.9"/>
<line x1="445.43" y1="1192.30" x2="445.43" y2="1187.90" stroke="#000" stroke-width="1.9"/>
<line x1="445.43" y1="723.80" x2="445.43" y2="728.20" stroke="#000" stroke-width="1.9"/>
<line x1="461.77" y1="1192.30" x2="461.77" y2="1187.90" stroke="#000" stroke-width="1.9"/>
<line x1="461.77" y1="723.80" x2="461.77" y2="728.20" stroke="#000" stroke-width="1.9"/>
<line x1="478.10" y1="1192.30" x2="478.10" y2="1187.90" stroke="#000" stroke-width="1.9"/>
<line x1="478.10" y1="723.80" x2="478.10" y2="728.20" stroke="#000" stroke-width="1.9"/>
<line x1="494.43" y1="1192.30" x2="494.43" y2="1187.90" stroke="#000" stroke-width="1.9"/>
<line x1="494.43" y1="723.80" x2="494.43" y2="728.20" stroke="#000" stroke-width="1.9"/>
<line x1="510.77" y1="1192.30" x2="510.77" y2="1187.90" stroke="#000" stroke-width="1.9"/>
<line x1="510.77" y1="723.80" x2="510.77" y2="728.20" stroke="#000" stroke-width="1.9"/>
<line x1="527.10" y1="1192.30" x2="527.10" y2="1187.90" stroke="#000" stroke-width="1.9"/>
<line x1="527.10" y1="723.80" x2="527.10" y2="728.20" stroke="#000" stroke-width="1.9"/>
<line x1="543.43" y1="1192.30" x2="543.43" y2="1187.90" stroke="#000" stroke-width="1.9"/>
<line x1="543.43" y1="723.80" x2="543.43" y2="728.20" stroke="#000" stroke-width="1.9"/>
<line x1="559.77" y1="1192.30" x2="559.77" y2="1187.90" stroke="#000" stroke-width="1.9"/>
<line x1="559.77" y1="723.80" x2="559.77" y2="728.20" stroke="#000" stroke-width="1.9"/>
<text transform="translate(63.38 717.60) scale(1.0 1)" font-size="14.2" fill="#000" text-anchor="start" font-weight="bold" stroke="#000" stroke-width="0.15">-4</text>
<text transform="translate(39.95 726.90) scale(1.0 1)" font-size="20.8" fill="#000" text-anchor="start" font-weight="bold" stroke="#000" stroke-width="0.15" clip-path="url(#k2)">10</text>
<text transform="translate(63.38 795.68) scale(1.0 1)" font-size="14.2" fill="#000" text-anchor="start" font-weight="bold" stroke="#000" stroke-width="0.15">-5</text>
<text transform="translate(39.95 804.98) scale(1.0 1)" font-size="20.8" fill="#000" text-anchor="start" font-weight="bold" stroke="#000" stroke-width="0.15" clip-path="url(#k2)">10</text>
<text transform="translate(63.38 873.77) scale(1.0 1)" font-size="14.2" fill="#000" text-anchor="start" font-weight="bold" stroke="#000" stroke-width="0.15">-6</text>
<text transform="translate(39.95 883.07) scale(1.0 1)" font-size="20.8" fill="#000" text-anchor="start" font-weight="bold" stroke="#000" stroke-width="0.15" clip-path="url(#k2)">10</text>
<text transform="translate(63.38 951.85) scale(1.0 1)" font-size="14.2" fill="#000" text-anchor="start" font-weight="bold" stroke="#000" stroke-width="0.15">-7</text>
<text transform="translate(39.95 961.15) scale(1.0 1)" font-size="20.8" fill="#000" text-anchor="start" font-weight="bold" stroke="#000" stroke-width="0.15" clip-path="url(#k2)">10</text>
<text transform="translate(63.38 1029.93) scale(1.0 1)" font-size="14.2" fill="#000" text-anchor="start" font-weight="bold" stroke="#000" stroke-width="0.15">-8</text>
<text transform="translate(39.95 1039.23) scale(1.0 1)" font-size="20.8" fill="#000" text-anchor="start" font-weight="bold" stroke="#000" stroke-width="0.15" clip-path="url(#k2)">10</text>
<text transform="translate(63.38 1108.02) scale(1.0 1)" font-size="14.2" fill="#000" text-anchor="start" font-weight="bold" stroke="#000" stroke-width="0.15">-9</text>
<text transform="translate(39.95 1117.32) scale(1.0 1)" font-size="20.8" fill="#000" text-anchor="start" font-weight="bold" stroke="#000" stroke-width="0.15" clip-path="url(#k2)">10</text>
<text transform="translate(55.48 1186.10) scale(1.0 1)" font-size="14.2" fill="#000" text-anchor="start" font-weight="bold" stroke="#000" stroke-width="0.15" clip-path="url(#k3)">-10</text>
<text transform="translate(32.05 1195.40) scale(1.0 1)" font-size="20.8" fill="#000" text-anchor="start" font-weight="bold" stroke="#000" stroke-width="0.15" clip-path="url(#k2)">10</text>
<text transform="translate(83.40 1216.00) scale(1.0 1)" font-size="20.8" fill="#000" text-anchor="middle" font-weight="bold" stroke="#000" stroke-width="0.15">0.7</text>
<text transform="translate(246.73 1216.00) scale(1.0 1)" font-size="20.8" fill="#000" text-anchor="middle" font-weight="bold" stroke="#000" stroke-width="0.15">0.8</text>
<text transform="translate(410.07 1216.00) scale(1.0 1)" font-size="20.8" fill="#000" text-anchor="middle" font-weight="bold" stroke="#000" stroke-width="0.15">0.9</text>
<text transform="translate(567.12 1216.00) scale(1.0 1)" font-size="20.8" fill="#000" text-anchor="start" font-weight="bold" stroke="#000" stroke-width="0.15" clip-path="url(#k2)">1</text>
<text transform="translate(275.00 1245.80) scale(0.945 1)" font-size="22.0" fill="#000" text-anchor="start" font-weight="bold" stroke="#000" stroke-width="0.15">[C]</text>
<text transform="translate(303.20 1255.00) scale(0.945 1)" font-size="14.6" fill="#000" text-anchor="start" font-weight="bold" stroke="#000" stroke-width="0.15">gas</text>
<text transform="translate(326.30 1245.80) scale(1.45 1)" font-size="22.0" fill="#000" text-anchor="start" font-weight="normal" stroke="#000" stroke-width="0.45">/</text>
<text transform="translate(341.00 1245.80) scale(0.945 1)" font-size="22.0" fill="#000" text-anchor="start" font-weight="bold" stroke="#000" stroke-width="0.15">[O]</text>
<text transform="translate(371.80 1255.00) scale(0.945 1)" font-size="14.6" fill="#000" text-anchor="start" font-weight="bold" stroke="#000" stroke-width="0.15">gas</text>
<g transform="translate(15.6,1114.6) rotate(-90)">
<text transform="translate(0.00 0.00) scale(1.022 1)" font-size="20.8" fill="#000" text-anchor="start" font-weight="bold" stroke="#000" stroke-width="0.15">fractional abundance : n</text>
<text transform="translate(246.00 10.10) scale(1.022 1)" font-size="14.2" fill="#000" text-anchor="start" font-weight="bold" stroke="#000" stroke-width="0.15">X</text>
<text transform="translate(260.08 0.00) scale(1.4819 1)" font-size="20.8" fill="#000" text-anchor="start" font-weight="normal" stroke="#000" stroke-width="0.45">/</text>
<text transform="translate(273.10 0.00) scale(1.022 1)" font-size="20.8" fill="#000" text-anchor="start" font-weight="bold" stroke="#000" stroke-width="0.15">n</text>
<text transform="translate(286.39 10.10) scale(1.022 1)" font-size="14.2" fill="#000" text-anchor="start" font-weight="bold" stroke="#000" stroke-width="0.15">H</text>
</g>
<polyline points="86.10,769.60 249.43,779.40 412.77,795.30 527.10,810.50 576.10,820.50" fill="none" stroke="#000" stroke-width="2.35" stroke-linejoin="round"/>
<path d="M92.30 795.34 L104.30 795.99 M111.23 796.37 L123.23 797.02 M130.16 797.40 L142.16 798.05 M149.09 798.43 L161.09 799.09 M168.02 799.46 L180.02 800.12 M186.95 800.50 L198.95 801.15 M205.88 801.53 L217.88 802.18 M224.81 802.56 L236.81 803.21 M243.74 803.59 L249.43 803.90 L255.74 803.82 M262.67 803.73 L274.67 803.58 M281.60 803.49 L293.60 803.33 M300.53 803.24 L312.53 803.09 M319.46 803.00 L331.46 802.85 M338.39 802.76 L350.39 802.60 M357.32 802.51 L369.32 802.36 M376.25 802.27 L388.25 802.12 M395.18 802.03 L407.18 801.87 M414.11 801.73 L426.11 801.11 M433.04 800.75 L445.04 800.13 M451.97 799.78 L463.97 799.16 M470.90 798.80 L482.90 798.18 M489.83 797.82 L501.83 797.20 M508.76 796.85 L520.76 796.23 M527.69 795.87 L539.69 795.28 M546.62 794.94 L558.62 794.36 M565.55 794.02 L576.10 793.50" fill="none" stroke="#0820dc" stroke-width="2.3" stroke-linejoin="round"/>
<polyline points="86.10,836.60 249.43,829.70 412.77,840.60 527.10,856.30 576.10,866.80" fill="none" stroke="#cc2206" stroke-width="2.4" stroke-linejoin="round"/>
<polyline points="86.10,841.30 249.43,845.60 412.77,839.40 527.10,833.50 576.10,831.50" fill="none" stroke="#0820dc" stroke-width="2.4" stroke-linejoin="round"/>
<polyline points="86.10,1038.80 249.43,1050.60 412.77,1050.20 527.10,1049.00 576.10,1048.30" fill="none" stroke="#1ae834" stroke-width="2.3" stroke-linejoin="round"/>
<path d="M92.30 1030.97 L104.30 1033.22 M111.23 1034.52 L123.23 1036.78 M130.16 1038.08 L142.16 1040.34 M149.09 1041.64 L161.09 1043.90 M168.02 1045.20 L180.02 1047.45 M186.95 1048.76 L198.95 1051.01 M205.88 1052.31 L217.88 1054.57 M224.81 1055.87 L236.81 1058.13 M243.74 1059.43 L249.43 1060.50 L255.74 1060.91 M262.67 1061.37 L274.67 1062.15 M281.60 1062.61 L293.60 1063.39 M300.53 1063.85 L312.53 1064.63 M319.46 1065.09 L331.46 1065.87 M338.39 1066.33 L350.39 1067.11 M357.32 1067.57 L369.32 1068.35 M376.25 1068.81 L388.25 1069.59 M395.18 1070.05 L407.18 1070.83 M414.11 1071.19 L426.11 1071.06 M433.04 1070.99 L445.04 1070.86 M451.97 1070.79 L463.97 1070.66 M470.90 1070.59 L482.90 1070.46 M489.83 1070.39 L501.83 1070.27 M508.76 1070.19 L520.76 1070.07 M527.69 1069.98 L539.69 1069.54 M546.62 1069.28 L558.62 1068.84 M565.55 1068.59 L576.10 1068.20" fill="none" stroke="#000" stroke-width="2.5" stroke-linejoin="round"/>
<polyline points="86.10,1136.10 249.43,1100.50 412.77,1065.70 527.10,1041.00 576.10,1030.20" fill="none" stroke="#076e22" stroke-width="2.8" stroke-linejoin="round"/>
<polyline points="86.10,1002.60 249.43,1035.10 412.77,1081.80 527.10,1115.80 576.10,1130.40" fill="none" stroke="#000" stroke-width="2.8" stroke-linejoin="round"/>
<text transform="translate(462.36 779.40) scale(0.98 1)" font-size="20.5" fill="#0820dc" text-anchor="start" font-weight="bold" stroke="#0820dc" stroke-width="0.4">N</text>
<text transform="translate(476.80 789.10) scale(0.98 1)" font-size="14.6" fill="#0820dc" text-anchor="start" font-weight="bold" stroke="#0820dc" stroke-width="0.4">2</text>
<text transform="translate(485.66 779.40) scale(0.98 1)" font-size="20.5" fill="#0820dc" text-anchor="start" font-weight="bold" stroke="#0820dc" stroke-width="0.4">H</text>
<text transform="translate(500.90 772.10) scale(0.98 1)" font-size="14.6" fill="#0820dc" text-anchor="start" font-weight="bold" stroke="#0820dc" stroke-width="0.4">+</text>
<text transform="translate(514.67 779.40) scale(0.98 1)" font-size="20.5" fill="#0820dc" text-anchor="start" font-weight="normal" stroke="#0820dc" stroke-width="0.6">x</text>
<text transform="translate(530.63 779.40) scale(0.98 1)" font-size="20.5" fill="#0820dc" text-anchor="start" font-weight="bold" stroke="#0820dc" stroke-width="0.4" clip-path="url(#k4)">10</text>
<text transform="translate(553.36 771.10) scale(0.98 1)" font-size="14.6" fill="#0820dc" text-anchor="start" font-weight="bold" stroke="#0820dc" stroke-width="0.4">5</text>
<text transform="translate(174.42 759.20) scale(0.948 1)" font-size="22.6" fill="#000" text-anchor="start" font-weight="bold" stroke="#000" stroke-width="0.15">O</text>
<text transform="translate(228.77 877.00) scale(0.948 1)" font-size="22.6" fill="#0820dc" text-anchor="start" font-weight="bold" stroke="#0820dc" stroke-width="0.15">N</text>
<text transform="translate(243.20 886.00) scale(0.948 1)" font-size="15.2" fill="#0820dc" text-anchor="start" font-weight="bold" stroke="#0820dc" stroke-width="0.15">2</text>
<text transform="translate(522.67 888.50) scale(0.948 1)" font-size="22.6" fill="#cc2206" text-anchor="start" font-weight="bold" stroke="#cc2206" stroke-width="0.15">N</text>
<text transform="translate(360.37 1032.30) scale(0.948 1)" font-size="22.6" fill="#1ae834" text-anchor="start" font-weight="bold" stroke="#1ae834" stroke-width="0.15">HCN</text>
<text transform="translate(519.07 1091.30) scale(0.948 1)" font-size="22.6" fill="#000" text-anchor="start" font-weight="bold" stroke="#000" stroke-width="0.15">NH</text>
<text transform="translate(549.07 1100.80) scale(0.948 1)" font-size="15.2" fill="#000" text-anchor="start" font-weight="bold" stroke="#000" stroke-width="0.15">3</text>
<text transform="translate(156.32 1145.20) scale(0.948 1)" font-size="22.6" fill="#076e22" text-anchor="start" font-weight="bold" stroke="#076e22" stroke-width="0.15">CN</text>
<text transform="translate(460.97 1133.20) scale(0.948 1)" font-size="22.6" fill="#000" text-anchor="start" font-weight="bold" stroke="#000" stroke-width="0.15">NO</text>
</g>
</svg>
</div>
</body></html>
